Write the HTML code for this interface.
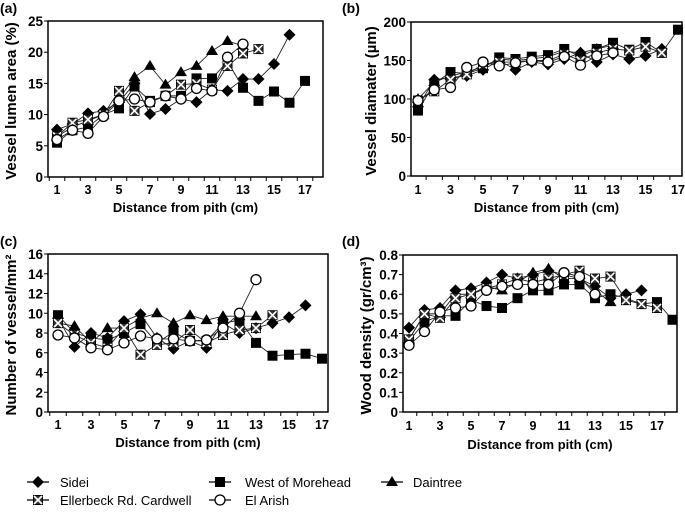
<!DOCTYPE html>
<html><head><meta charset="utf-8"><style>
body{margin:0;background:#fff;}
svg{display:block;font-family:"Liberation Sans",Arial,sans-serif;}
.t{font-weight:bold;}
</style></head><body>
<svg id="c" width="685" height="513" viewBox="0 0 685 513"></svg>
<script>
const xCats = [1,2,3,4,5,6,7,8,9,10,11,12,13,14,15,16,17,18];
const xTickLabels = [1,3,5,7,9,11,13,15,17];
const seriesNames = ["Sidei","West of Morehead","Daintree","Ellerbeck Rd. Cardwell","El Arish"];
// panel a: vessel lumen area (%)
const aSidei = [7.6,8.5,10.2,10.6,12,15,10.1,10.9,12.5,12,14,13.8,15.7,15.7,18.1,22.8];
const aWest = [5.5,7.5,8,10,11,14.5,12.2,13,13,15.8,15.8,18.5,14.3,12.2,13.7,11.9,15.4];
const aDain = [6.5,8,9,10,12.5,16,17.8,14.8,16.8,17.8,20.2,21.8,21];
const aEll = [6.5,8.7,9.2,10,13.8,10.6,12,13,14.8,15,14,17.8,19.8,20.5];
const aEl = [6,7.5,7,9.7,12.2,12.5,12,13,12.5,14.2,13.8,19.2,21.3];
const aTicks = [0,5,10,15,20,25];
// panel b: vessel diameter
const bSidei = [90,125,128,130,138,150,138,148,145,152,160,148,158,152,156,165];
const bWest = [85,120,135,133,140,154,152,155,157,165,155,165,173,164,174,160,190];
const bDain = [100,122,130,135,142,152,150,152,155,162,160,165,170];
const bEll = [98,110,125,132,145,148,148,150,150,158,150,160,165,163,168,160];
const bEl = [98,112,115,141,148,143,147,150,148,155,144,156,160];
const bTicks = [0,50,100,150,200];
// panel c: number of vessel/mm2
const cSidei = [9.5,6.6,8,7.5,9.2,9.9,7.5,6.4,7.2,6.5,9,8,8.5,9,9.6,10.8];
const cWest = [9.8,8,7.5,7.3,8,8.9,7,8.1,7.2,7.2,9,9.3,7,5.7,5.8,5.9,5.4];
const cDain = [9,8.7,7,8.5,8.5,9.5,10,9,9.8,9.3,9.7,9.7,9.7];
const cEll = [9,7.8,7,6.5,8.5,5.8,6.8,7,8.3,7,7.8,8.3,8.5,9.8];
const cEl = [7.8,7.5,6.5,6.3,7,7.7,7.4,7.4,7.2,7.3,8.5,10,13.4];
const cTicks = [0,2,4,6,8,10,12,14,16];
// panel d: wood density
const dSidei = [.43,.52,.53,.62,.63,.66,.70,.68,.70,.72,.70,.68,.64,.58,.60,.62];
const dWest = [.36,.46,.49,.49,.57,.54,.53,.58,.62,.62,.65,.65,.58,.60,.58,.55,.56,.47];
const dDain = [.37,.50,.50,.60,.60,.64,.62,.66,.71,.73,.68,.68,.62,.56];
const dEll = [.37,.50,.48,.58,.60,.63,.65,.68,.66,.68,.70,.72,.68,.69,.57,.55,.53];
const dEl = [.34,.41,.51,.53,.54,.62,.64,.65,.65,.65,.71,.69,.60];
const dTicks = [0,0.1,0.2,0.3,0.4,0.5,0.6,0.7,0.8];

const NS="http://www.w3.org/2000/svg";
const svg=document.getElementById('c');
function mk(tag,attrs,parent){const e=document.createElementNS(NS,tag);for(const k in attrs)e.setAttribute(k,attrs[k]);(parent||svg).appendChild(e);return e;}
function marker(g,type,x,y){
  let e;
  if(type===0){e=mk('polygon',{points:`${x},${y-6} ${x+6},${y} ${x},${y+6} ${x-6},${y}`,fill:'#000'},g);}
  else if(type===1){e=mk('rect',{x:x-5,y:y-5,width:10,height:10,fill:'#000'},g);}
  else if(type===2){e=mk('polygon',{points:`${x},${y-6} ${x+6},${y+4} ${x-6},${y+4}`,fill:'#000'},g);}
  else if(type===3){e=mk('rect',{x:x-4.5,y:y-4.5,width:9,height:9,fill:'#333',stroke:'#000','stroke-width':1},g);
    mk('path',{d:`M${x-4} ${y-4}L${x+4} ${y+4}M${x+4} ${y-4}L${x-4} ${y+4}`,stroke:'#fff','stroke-width':1.6},g);}
  else {e=mk('circle',{cx:x,cy:y,r:5,fill:'#fff',stroke:'#000','stroke-width':1.3},g);}
  return e;
}
const panels=[
 {id:'a',lab:'(a)',lx:0,ly:13,L:48,R:323,T:21,B:177,x1:57,dx:15.5,ymax:25,ticks:aTicks,fmt:v=>v,data:[aSidei,aWest,aDain,aEll,aEl],ytitle:'Vessel lumen area (%)',ytx:16,xlY:194,xtY:212},
 {id:'b',lab:'(b)',lx:342,ly:13,L:411,R:682,T:22,B:176,x1:418,dx:16.25,ymax:200,ticks:bTicks,fmt:v=>v,data:[bSidei,bWest,bDain,bEll,bEl],ytitle:'Vessel diamater (µm)',ytx:376,xlY:194,xtY:212},
 {id:'c',lab:'(c)',lx:0,ly:246,L:48,R:328,T:254,B:412,x1:58,dx:16.5,ymax:16,ticks:cTicks,fmt:v=>v,data:[cSidei,cWest,cDain,cEll,cEl],ytitle:'Number of vessel/mm²',ytx:16,xlY:429,xtY:447},
 {id:'d',lab:'(d)',lx:342,ly:246,L:403,R:677,T:255,B:412,x1:409,dx:15.5,ymax:0.8,ticks:dTicks,fmt:v=>v===0?'0':v.toFixed(1),data:[dSidei,dWest,dDain,dEll,dEl],ytitle:'Wood density (gr/cm³)',ytx:371,xlY:430,xtY:449}
];
panels.forEach(p=>{
  const g=mk('g',{});
  
  
  const sx=v=>p.x1+(v-1)*p.dx, sy=v=>p.B-(v/p.ymax)*(p.B-p.T);
  const lab=mk('text',{x:p.lx,y:p.ly,class:'t',style:'font-size:14px'},g);lab.textContent=p.lab;
  
  
  const frame=mk('rect',{x:p.L,y:p.T,width:p.R-p.L,height:p.B-p.T,fill:'none',stroke:'#000','stroke-width':1.5},g);
  
  
  p.ticks.forEach(t=>{
    const y=sy(t);
    mk('line',{x1:p.L-4,x2:p.L,y1:y,y2:y,stroke:'#000'},g);
    const tx=mk('text',{x:p.L-5,y:y+5,'text-anchor':'end',class:'t',style:'font-size:13.5px'},g);tx.textContent=p.fmt(t);
    
    
  });
  for(let i=0;i<=18;i++){const x=sx(i+0.5);if(x>p.L&&x<p.R)mk('line',{x1:x,x2:x,y1:p.B,y2:p.B+4,stroke:'#000'},g);}
  xTickLabels.forEach(v=>{
    const tx=mk('text',{x:sx(v),y:p.xlY,'text-anchor':'middle',class:'t',style:'font-size:12.5px'},g);tx.textContent=v;
    
    
  });
  const xt=mk('text',{x:(p.L+p.R)/2,y:p.xtY,'text-anchor':'middle',class:'t',style:'font-size:13px'},g);xt.textContent='Distance from pith (cm)';
  
  
  const cy=(p.T+p.B)/2+2;
  const yt=mk('text',{x:p.ytx,y:cy,'text-anchor':'middle',class:'t',style:'font-size:15px',transform:`rotate(-90 ${p.ytx} ${cy})`},g);yt.textContent=p.ytitle;
  
  
  p.data.forEach((arr,si)=>{
    const sg=mk('g',{},g);
    
    
    const pts=arr.map((v,i)=>sx(xCats[i])+','+sy(v)).join(' ');
    mk('polyline',{points:pts,fill:'none',stroke:'#222','stroke-width':0.9},sg);
    arr.forEach((v,i)=>{
      const m=marker(sg,si,sx(xCats[i]),sy(v));
      if(m){
      }
    });
  });
});
// legend
const legend=[[0,38,482,60],[1,220,482,245],[2,392,482,413],[3,38,500,60],[4,220,500,245]];
const lg=mk('g',{});


legend.forEach(([s,mx,my,tx])=>{
  const eg=mk('g',{},lg);
  
  
  mk('line',{x1:mx-11,x2:mx+11,y1:my,y2:my,stroke:'#000','stroke-width':1.2},eg);
  marker(eg,s,mx,my);
  const t=mk('text',{x:tx,y:my+5,style:'font-size:13px'},eg);t.textContent=seriesNames[s];
});
</script>
</body></html>
